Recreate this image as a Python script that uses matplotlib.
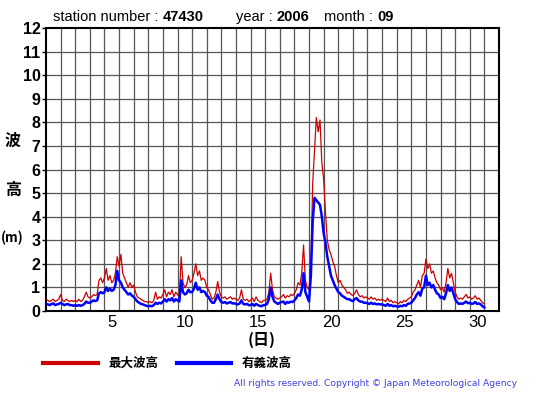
import matplotlib
matplotlib.use("Agg")
import matplotlib.pyplot as plt
import numpy as np

# 3-hourly values (8 per day), day index 0..29, plus final point
max_wave = [
    0.5, 0.45, 0.4, 0.45, 0.5, 0.4, 0.45, 0.5,
    0.7, 0.45, 0.4, 0.5, 0.45, 0.4, 0.45, 0.4,
    0.45, 0.4, 0.5, 0.4, 0.45, 0.6, 0.8, 0.6,
    0.55, 0.6, 0.7, 0.65, 0.7, 1.3, 1.4, 1.2,
    1.4, 1.8, 1.3, 1.5, 1.2, 1.3, 1.6, 2.3,
    1.9, 2.4, 1.6, 1.4, 1.2, 1.0, 1.2, 1.0,
    1.1, 0.8, 0.6, 0.55, 0.5, 0.45, 0.4, 0.4,
    0.35, 0.4, 0.35, 0.45, 0.8, 0.5, 0.6, 0.55,
    0.7, 0.9, 0.6, 0.8, 0.7, 0.9, 0.6, 0.8,
    0.7, 0.6, 2.3, 1.2, 1.0, 1.1, 1.5, 1.2,
    1.3, 1.6, 2.0, 1.5, 1.7, 1.3, 1.4, 1.3,
    1.0, 0.9, 0.7, 0.5, 0.55, 0.8, 1.25, 0.8,
    0.6, 0.55, 0.6, 0.5, 0.55, 0.6, 0.5, 0.55,
    0.5, 0.45, 0.55, 0.9, 0.5, 0.45, 0.5, 0.4,
    0.45, 0.55, 0.4, 0.6, 0.45, 0.4, 0.35, 0.45,
    0.45, 0.5, 0.8, 1.6, 0.9, 0.6, 0.55, 0.5,
    0.55, 0.6, 0.7, 0.55, 0.65, 0.6, 0.7, 0.65,
    0.75, 0.9, 1.2, 1.1, 1.6, 2.8, 1.3, 1.0,
    0.9, 2.0, 5.4, 6.8, 8.2, 7.6, 8.1, 6.3,
    5.6, 4.2, 3.0, 2.6, 2.4, 2.1, 1.9, 1.5,
    1.2, 1.3, 1.1, 1.0, 0.9, 0.75, 0.8, 0.7,
    0.65, 0.75, 0.9, 0.7, 0.6, 0.65, 0.55, 0.6,
    0.55, 0.5, 0.6, 0.5, 0.55, 0.45, 0.5, 0.45,
    0.5, 0.45, 0.4, 0.55, 0.4, 0.45, 0.35, 0.4,
    0.35, 0.3, 0.4, 0.35, 0.45, 0.4, 0.5, 0.55,
    0.6, 0.8, 0.9, 1.1, 1.3, 1.0, 1.5, 1.6,
    2.2, 1.8, 2.0, 1.6, 1.7, 1.4, 1.2, 1.1,
    0.9, 1.0, 0.8, 1.2, 1.8, 1.4, 1.6, 1.2,
    0.8, 0.6, 0.5, 0.55, 0.5, 0.6, 0.7, 0.55,
    0.6, 0.5, 0.55, 0.65, 0.5, 0.55, 0.45, 0.35,
    0.3,
]
sig_wave = [
    0.3, 0.28, 0.25, 0.3, 0.32, 0.25, 0.28, 0.3,
    0.35, 0.3, 0.25, 0.28, 0.3, 0.25, 0.25, 0.22,
    0.25, 0.22, 0.25, 0.22, 0.25, 0.3, 0.4, 0.35,
    0.35, 0.4, 0.45, 0.42, 0.45, 0.75, 0.8, 0.75,
    0.8, 1.0, 0.85, 0.95, 0.85, 0.9, 1.1, 1.7,
    1.3, 1.2, 1.0, 0.9, 0.8, 0.7, 0.75, 0.65,
    0.6, 0.5, 0.4, 0.35, 0.3, 0.28, 0.25, 0.22,
    0.2, 0.22, 0.2, 0.25, 0.35, 0.3, 0.35, 0.32,
    0.4, 0.5, 0.4, 0.5, 0.45, 0.55, 0.4, 0.5,
    0.45, 0.4, 1.3, 0.8, 0.7, 0.75, 0.9, 0.8,
    0.8, 0.95, 1.2, 0.9, 1.0, 0.8, 0.85, 0.8,
    0.65, 0.6, 0.45, 0.35, 0.35, 0.5, 0.7, 0.5,
    0.38, 0.35, 0.38, 0.32, 0.35, 0.38, 0.32, 0.33,
    0.3, 0.28, 0.32, 0.45, 0.3, 0.28, 0.3, 0.25,
    0.25, 0.3, 0.22, 0.3, 0.25, 0.22, 0.2, 0.25,
    0.25, 0.3, 0.5, 1.0, 0.6, 0.4, 0.35, 0.3,
    0.35, 0.38, 0.4, 0.3, 0.38, 0.35, 0.4, 0.38,
    0.45, 0.55, 0.7, 0.65, 0.9, 1.6, 0.8, 0.6,
    0.4, 1.5, 3.8, 4.8, 4.7, 4.6, 4.5, 4.0,
    3.3, 2.9, 2.3, 1.9, 1.5, 1.3, 1.1, 0.95,
    0.8, 0.75, 0.65, 0.6, 0.55, 0.5, 0.5, 0.45,
    0.42, 0.5, 0.55, 0.45, 0.4, 0.4, 0.35, 0.35,
    0.33, 0.3, 0.35, 0.3, 0.32, 0.28, 0.3, 0.28,
    0.28, 0.25, 0.22, 0.3, 0.22, 0.25, 0.2, 0.22,
    0.2, 0.18, 0.22, 0.2, 0.25, 0.22, 0.3, 0.32,
    0.35, 0.45, 0.55, 0.7, 0.8, 0.65, 0.95, 1.0,
    1.5, 1.1, 1.2, 1.0, 1.1, 0.9, 0.75, 0.7,
    0.55, 0.6, 0.5, 0.75, 1.1, 0.85, 1.0, 0.75,
    0.5, 0.38, 0.3, 0.32, 0.3, 0.35, 0.4, 0.33,
    0.35, 0.3, 0.32, 0.38, 0.3, 0.32, 0.28, 0.2,
    0.15,
]
x_tick_labels = ["5", "10", "15", "20", "25", "30"]
y_tick_labels = [str(v) for v in range(0, 13)]
legend_labels = ["最大波高", "有義波高"]

t = np.arange(len(max_wave)) / 8.0

W, H = 555, 395
fig = plt.figure(figsize=(W / 100, H / 100), dpi=100)
ax = fig.add_axes([46 / W, 1 - 311 / H, 453 / W, 283 / H])

ax.plot(t, max_wave, color="#cc0000", lw=0.9, zorder=3)
ax.plot(t, sig_wave, color="#0000ff", lw=1.8, zorder=4)

ax.set_xlim(0, 31)
ax.set_ylim(0, 12)
for d in range(1, 31):
    ax.axvline(d, color="#555555", lw=0.9, zorder=1)
for v in range(1, 12):
    ax.axhline(v, color="#555555", lw=0.9, zorder=1)

ax.set_xticks([int(s) - 0.5 for s in x_tick_labels])
ax.set_xticklabels(x_tick_labels, fontsize=12, family="Liberation Sans")
ax.tick_params(axis="x", length=0, pad=3)
ax.set_yticks(range(0, 13))
ax.set_yticklabels(y_tick_labels, fontsize=11.5, fontweight="bold", family="Liberation Sans")
ax.tick_params(axis="y", length=3, width=1, pad=1)
for s in ax.spines.values():
    s.set_linewidth(1.5)
    s.set_color("black")

cjk = ["Noto Sans CJK JP", "DejaVu Sans"]
fig.text(13 / W, 1 - 141 / H, "波", fontsize=11.5, family=cjk, ha="center", va="center", fontweight="bold")
fig.text(13 / W, 1 - 190 / H, "高", fontsize=11.5, family=cjk, ha="center", va="center", fontweight="bold")
fig.text(12 / W, 1 - 238 / H, "(m)", fontsize=9.5, family=cjk, ha="center", va="center", fontweight="bold")
fig.text(262 / W, 1 - 340 / H, "(日)", fontsize=11.5, family=cjk, ha="center", va="center", fontweight="bold")

# header: chain text pieces
renderer = fig.canvas.get_renderer()


def chain(x0, pieces, y):
    x = x0
    for txt, bold in pieces:
        tt = fig.text(x / W, 1 - y / H, txt, fontsize=10.5, family="Liberation Sans",
                      va="center", fontweight="bold" if bold else "normal")
        bb = tt.get_window_extent(renderer=renderer)
        x += bb.width


chain(53, [("station number : ", False), ("47430", True)], 17)
chain(236, [("year : ", False), ("2006", True)], 17)
chain(324, [("month : ", False), ("09", True)], 17)

# legend
fig.add_artist(plt.Line2D([43 / W, 98 / W], [1 - 363 / H] * 2, color="#cc0000", lw=3))
fig.text(108 / W, 1 - 363 / H, legend_labels[0], fontsize=9, family=cjk, va="center", fontweight="bold")
fig.add_artist(plt.Line2D([177 / W, 231 / W], [1 - 363 / H] * 2, color="#0000ff", lw=3))
fig.text(242 / W, 1 - 363 / H, legend_labels[1], fontsize=9, family=cjk, va="center", fontweight="bold")

fig.text(517 / W, 1 - 384 / H, "All rights reserved. Copyright © Japan Meteorological Agency",
         fontsize=6.6, family="DejaVu Sans", color="#3f3fdf", ha="right", va="center")

fig.savefig("out.png", dpi=100)
